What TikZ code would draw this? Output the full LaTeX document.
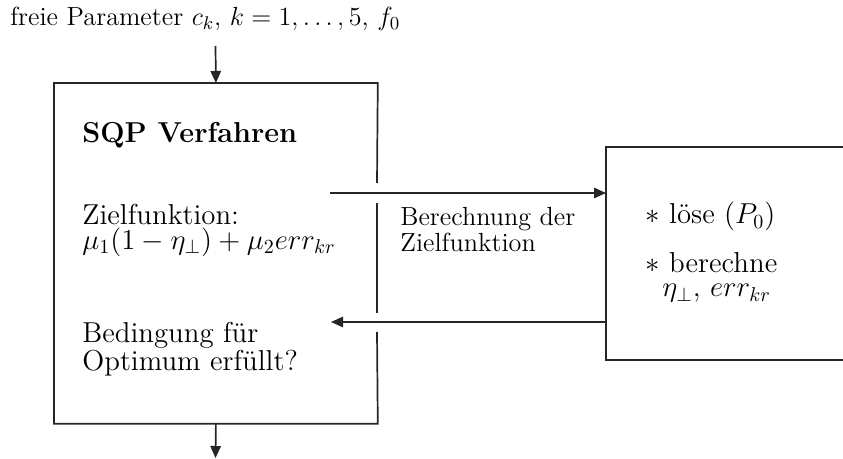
\RequirePackage{fix-cm}
\documentclass[tikz,border=0pt]{standalone}
\usetikzlibrary{arrows.meta}
\tikzset{
  frame/.style={line width=0.85pt, draw=black!85},
  arr/.style={line width=0.85pt, draw=black!85, -{Triangle[length=6pt,width=5.2pt]}},
  lbl/.style={anchor=base west, inner sep=0pt, align=left},
  toptext/.style={lbl, font=\fontsize{13.1}{15}\selectfont},
  midtext/.style={lbl, font=\fontsize{13.1}{13}\selectfont},
  boxtext/.style={lbl, font=\fontsize{14.4}{12.5}\selectfont},
}
\begin{document}
\begin{tikzpicture}[x=0.5pt,y=-0.5pt]
\useasboundingbox (0,0) rectangle (843,459);
% left box (named node, frame drawn with gaps)
\node[inner sep=0pt, minimum width=161.5pt, minimum height=170pt, anchor=north west] (L) at (54,83) {};
\coordinate (g1a) at (377,183); \coordinate (g1b) at (377,203);
\coordinate (g2a) at (377,313); \coordinate (g2b) at (377,332);
\draw[frame] (g1a) -- (L.north east) -- (L.north west) -- (L.south west) -- (L.south east) -- (g2b);
\draw[frame] (g1b) -- (g2a);
% right box, its right edge lies outside the picture
\node[inner sep=0pt, minimum width=118.5pt, minimum height=106pt, anchor=north west] (R) at (606,147) {};
\draw[frame] (R.north east) -- (R.north west) -- (R.south west) -- (R.south east);
% texts
\node[toptext] (T) at (10,26) {freie Parameter $c_k$, $k=1,\ldots,5$, $f_0$};
\node[boxtext] (sqp) at (82,143) {\textbf{SQP Verfahren}};
\node[boxtext] (ziel) at (82,249.5) {Zielfunktion:\\$\mu_1(1-\eta_\perp)+\mu_2 err_{kr}$};
\node[boxtext] (bed) at (82,371) {Bedingung f\"ur\\Optimum erf\"ullt?};
\node[midtext] (ber) at (400,251.5) {Berechnung der\\Zielfunktion};
\node[boxtext] (loese) at (645,224) {$\ast$ l\"ose $(P_0)$};
\node[boxtext] (berechne) at (645,273) {$\ast$ berechne};
\node[boxtext] (eta) at (662,297) {$\eta_\perp$, $err_{kr}$};
% connectors
\coordinate (in) at (215.5,46);
\coordinate (out) at (215.5,458);
\draw[arr] (in) -- (L.north);
\draw[arr] (L.south) -- (out);
\coordinate (a1) at (330,193);
\coordinate (a2) at (331,322);
\draw[arr] (a1) -- (a1 -| R.west);
\draw[arr] (a2 -| R.west) -- (a2);
\end{tikzpicture}
\end{document}
